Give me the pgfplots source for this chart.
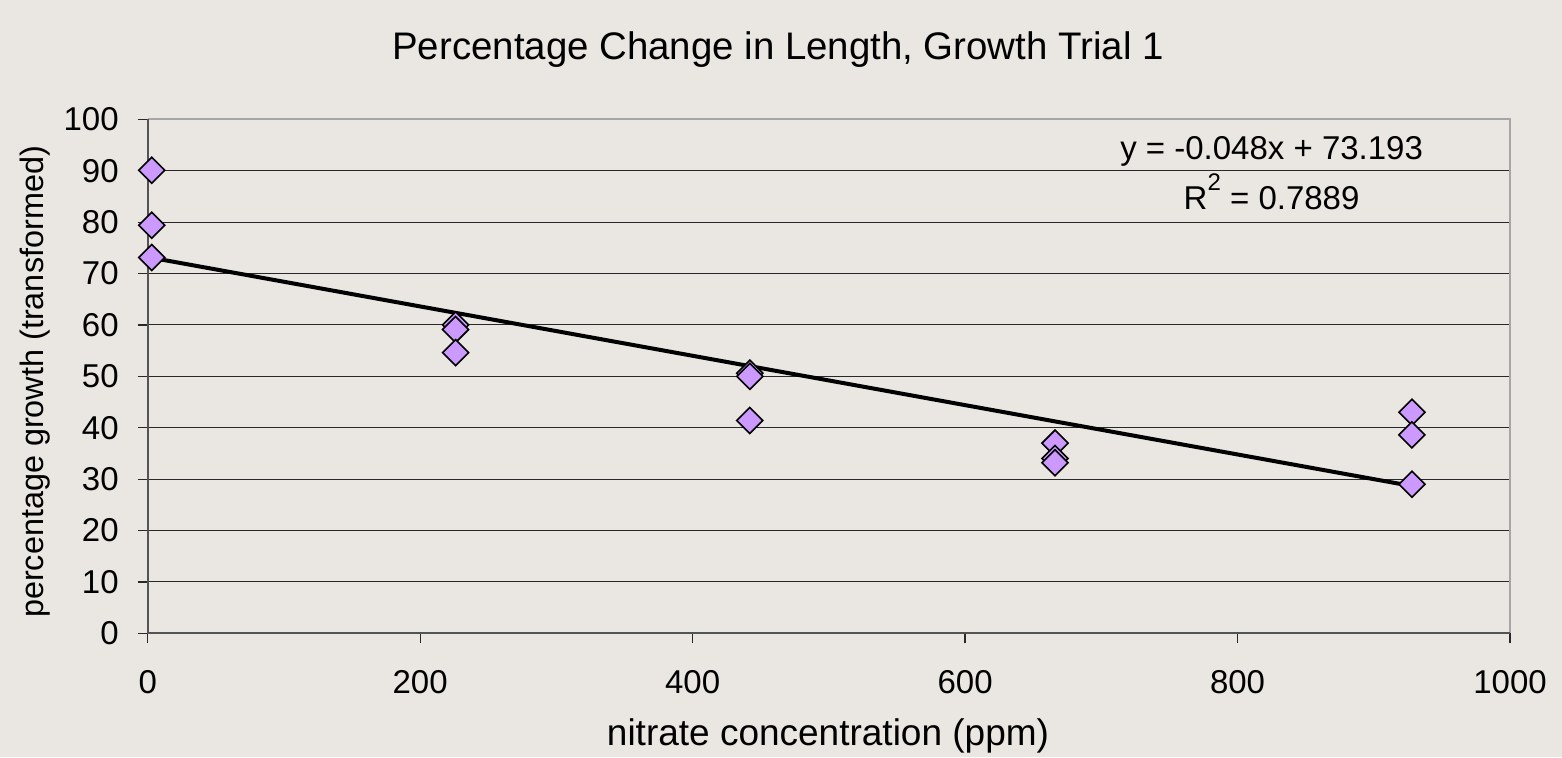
\documentclass[border=0pt]{standalone}
\usepackage{fontspec}
\setmainfont{Liberation Sans}
\usepackage{pgfplots}
\pgfplotsset{compat=1.18}
\usetikzlibrary{calc,backgrounds}
\definecolor{chartbg}{RGB}{234,230,226}
\definecolor{markfill}{RGB}{204,153,255}
\definecolor{gridblk}{RGB}{40,40,40}

\begin{document}
\begin{tikzpicture}
  \begin{axis}[
    name=ax,
    at={(0,0)}, anchor=south west,
    scale only axis,
    width=681.15pt, height=257pt,
    xmin=0, xmax=1000, ymin=0, ymax=100,
    xtick={0,200,...,1000},
    ytick={0,10,...,100},
    tick pos=left,
    tick align=outside,
    major tick length=5pt,
    tick style={gridblk, line width=0.6pt},
    ymajorgrids,
    grid style={gridblk, line width=0.5pt},
    axis line style={draw=none},
    font=\fontsize{16.5}{20}\selectfont,
    /pgf/number format/assume math mode=true,
    /pgf/number format/1000 sep={},
    xticklabel style={yshift=-10pt},
    yticklabel style={xshift=-6pt},
    clip=false,
  ]
    % frame: dark left/bottom, grey top/right
    \draw[gray!70, line width=1pt] (rel axis cs:0,1) -- (rel axis cs:1,1) -- (rel axis cs:1,0);
    \draw[gridblk!80, line width=1pt] (rel axis cs:0,1) -- (rel axis cs:0,0) -- (rel axis cs:1,0);

    \addplot[only marks, mark=square*, mark size=4.6pt,
      mark options={rotate=45, fill=markfill, draw=black, line width=0.8pt}]
      coordinates {
        (3,90.1) (3,79.4) (3,73.1)
        (226,60.0) (226,59.1) (226,54.6)
        (442,50.6) (442,50.0) (442,41.4)
        (666,37.0) (666,34.0) (666,33.2)
        (928,43.0) (928,38.6) (928,29.0)
      };

    % linear trendline
    \addplot[black, line width=2pt] coordinates {(3,73.05) (928,28.65)};

    \node[align=center, font=\fontsize{16.5}{25}\selectfont] at (axis cs:825,89.6)
      {y = -0.048x + 73.193\\ R\raisebox{0.55em}{\fontsize{12}{12}\selectfont 2} = 0.7889};
  \end{axis}

  \begin{scope}[on background layer]
    \fill[chartbg] ($(ax.south west)+(-73.85pt,-61.85pt)$) rectangle ++(781pt,378.5pt);
  \end{scope}
  \node[font=\fontsize{19.2}{22}\selectfont] at ($(ax.south west)+(-73.85pt,-61.85pt)+(389pt,353.5pt)$)
    {Percentage Change in Length, Growth Trial 1};
  \node[font=\fontsize{18.5}{22}\selectfont] at ($(ax.south west)+(-73.85pt,-61.85pt)+(414pt,10.5pt)$)
    {nitrate concentration (ppm)};
  \node[font=\fontsize{16.2}{20}\selectfont, rotate=90] at ($(ax.south west)+(-73.85pt,-61.85pt)+(17.5pt,187.5pt)$)
    {percentage growth (transformed)};
  \pgfresetboundingbox
  \useasboundingbox ($(ax.south west)+(-73.85pt,-61.85pt)$) rectangle ++(781pt,378.5pt);
\end{tikzpicture}
\end{document}
